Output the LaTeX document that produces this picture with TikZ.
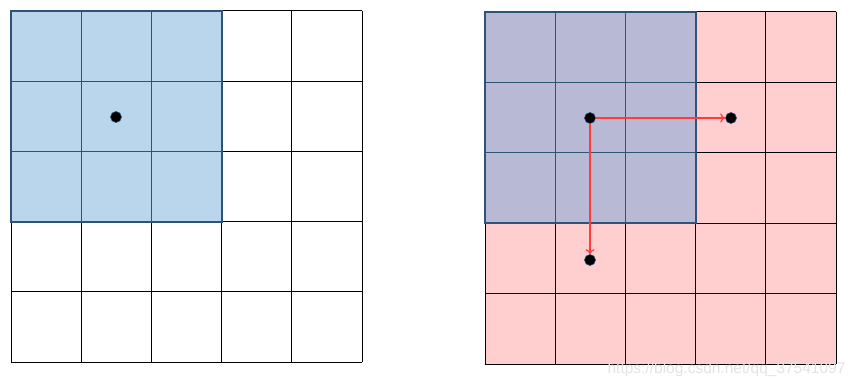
\documentclass[tikz,border=0pt]{standalone}
\usepackage{fontspec}
\setsansfont{Liberation Sans}
\usetikzlibrary{positioning,arrows.meta}
\definecolor{fieldblue}{HTML}{BAD6EC}
\definecolor{fieldmix}{HTML}{B8B9D5}
\definecolor{fieldpink}{HTML}{FFCFD0}
\definecolor{edgeblue}{HTML}{2E5377}
\definecolor{arrowred}{HTML}{FF3B3B}
\tikzstyle{cellline} = [draw=black, line width=1pt]
\tikzstyle{fieldline} = [draw=edgeblue, line width=1.2pt]
\tikzstyle{fieldborder} = [draw=edgeblue, line width=2pt]
\tikzstyle{centerdot} = [circle, fill=black, draw=edgeblue, line width=0.6pt, inner sep=0pt, minimum size=11pt]
\tikzstyle{movearrow} = [draw=arrowred, line width=1.3pt, -{To[length=5pt,width=9pt]}]

\begin{document}
\begin{tikzpicture}[x=1pt,y=-1pt]
    \useasboundingbox (0,0) rectangle (859,387);
    % left grid
    \fill[fieldblue] (11,11) rectangle (222,222);
    \foreach \i in {0,...,5} {
        \draw[cellline] (11+70.2*\i,11) -- (11+70.2*\i,362);
        \draw[cellline] (11,11+70.2*\i) -- (362,11+70.2*\i);
    }
    \foreach \i in {1,2} {
        \draw[fieldline] (11+70.2*\i,11) -- (11+70.2*\i,222);
        \draw[fieldline] (11,11+70.2*\i) -- (222,11+70.2*\i);
    }
    \draw[fieldborder] (11,11) rectangle (222,222);
    \node [centerdot] (mid) at (116,117) {};

    % right grid
    \fill[fieldpink] (485,12) rectangle (836,364);
    \fill[fieldmix] (485,12) rectangle (695.6,223.2);
    \foreach \i in {0,...,5} {
        \draw[cellline] (485+70.2*\i,12) -- (485+70.2*\i,364);
        \draw[cellline] (485,12+70.4*\i) -- (836,12+70.4*\i);
    }
    \foreach \i in {1,2} {
        \draw[fieldline] (485+70.2*\i,12) -- (485+70.2*\i,223.2);
        \draw[fieldline] (485,12+70.4*\i) -- (695.6,12+70.4*\i);
    }
    \draw[fieldborder] (485,12) rectangle (695.6,223.2);
    \node [centerdot] (start) at (590,118) {};
    \node [centerdot] (right) at (731,118) {};
    \node [centerdot] (down) at (590,260) {};

    \draw[movearrow] (start) -- (right);
    \draw[movearrow] (start) -- (down);

    \node [font=\sffamily\fontsize{15.5}{15.5}\selectfont, text=gray!22, anchor=east] (mark) at (849,369) {https://blog.csdn.net/qq\_37541097};
\end{tikzpicture}
\end{document}
